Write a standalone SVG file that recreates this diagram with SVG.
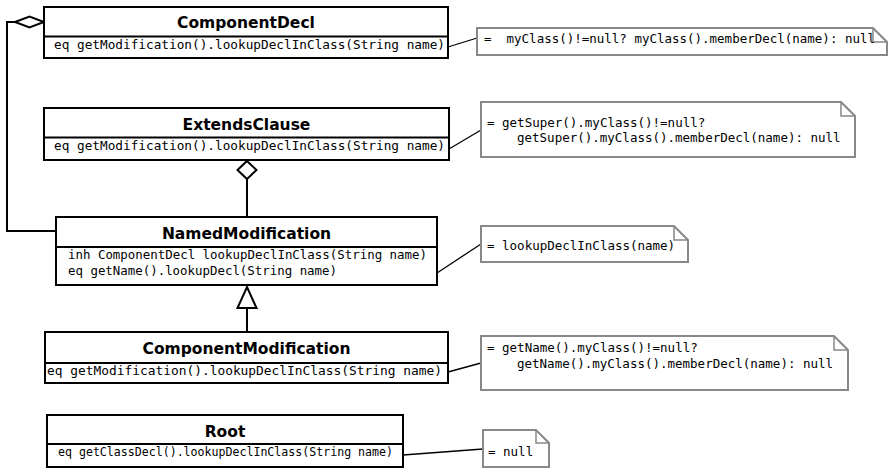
<svg xmlns="http://www.w3.org/2000/svg" width="888" height="469" viewBox="0 0 888 469">
  <style>
    .box { fill: #fff; stroke: #000; stroke-width: 2; }
    .div { stroke: #000; stroke-width: 2; }
    .title { font-family: "DejaVu Sans", "Liberation Sans", sans-serif; font-weight: bold; font-size: 15.5px; text-anchor: middle; fill: #000; }
    .attr { font-family: "DejaVu Sans Mono", "Liberation Mono", monospace; font-size: 13px; fill: #000; }
    .note { fill: #fff; stroke: #888; stroke-width: 2; stroke-linejoin: miter; }
    .fold { fill: none; stroke: #888; stroke-width: 1.5; }
    .ntext { font-family: "DejaVu Sans Mono", "Liberation Mono", monospace; font-size: 12.5px; fill: #000; }
    .link { fill: none; stroke: #000; stroke-width: 2; }
    .head { fill: #fff; stroke: #000; stroke-width: 2; }
    .anchor { stroke: #000; stroke-width: 1.3; }
  </style>

  <!-- connectors -->
  <g id="connectors">
    <!-- NamedModification -> ComponentDecl (aggregation) -->
    <polyline class="link" points="56,231 7,231 7,22 15,22"/>
    <polygon class="head" points="15,22 29.5,16.5 44,22 29.5,27.5"/>
    <!-- NamedModification -> ExtendsClause (aggregation) -->
    <line class="link" x1="247" y1="179" x2="247" y2="217"/>
    <polygon class="head" points="247,161 256.5,170 247,179 237.5,170"/>
    <!-- ComponentModification -> NamedModification (generalization) -->
    <line class="link" x1="247" y1="308" x2="247" y2="332"/>
    <polygon class="head" points="247,287 256.5,308 237.5,308"/>
    <!-- note anchors -->
    <line class="anchor" x1="448" y1="47" x2="477" y2="38"/>
    <line class="anchor" x1="449" y1="149" x2="481" y2="130"/>
    <line class="anchor" x1="437" y1="273" x2="481" y2="244"/>
    <line class="anchor" x1="448" y1="372" x2="481" y2="363"/>
    <line class="anchor" x1="403" y1="455" x2="483" y2="449"/>
  </g>

  <!-- classes -->
  <g id="ComponentDecl">
    <rect class="box" x="44" y="7" width="404" height="51"/>
    <line class="div" x1="44" y1="36.5" x2="448" y2="36.5"/>
    <text class="title" x="246" y="28">ComponentDecl</text>
    <text class="attr" x="54" y="48.5" textLength="391" lengthAdjust="spacingAndGlyphs">eq getModification().lookupDeclInClass(String name)</text>
  </g>

  <g id="ExtendsClause">
    <rect class="box" x="44" y="108" width="405" height="52"/>
    <line class="div" x1="44" y1="137.5" x2="449" y2="137.5"/>
    <text class="title" x="246.5" y="129.5">ExtendsClause</text>
    <text class="attr" x="54" y="149.5" textLength="391" lengthAdjust="spacingAndGlyphs">eq getModification().lookupDeclInClass(String name)</text>
  </g>

  <g id="NamedModification">
    <rect class="box" x="56" y="217" width="381" height="68"/>
    <line class="div" x1="56" y1="247" x2="437" y2="247"/>
    <text class="title" x="246.5" y="238.5">NamedModification</text>
    <text class="attr" x="68" y="259" textLength="359" lengthAdjust="spacingAndGlyphs">inh ComponentDecl lookupDeclInClass(String name)</text>
    <text class="attr" x="68" y="275" textLength="269" lengthAdjust="spacingAndGlyphs">eq getName().lookupDecl(String name)</text>
  </g>

  <g id="ComponentModification">
    <rect class="box" x="45" y="332" width="403" height="51"/>
    <line class="div" x1="45" y1="363" x2="448" y2="363"/>
    <text class="title" x="246.5" y="353.5">ComponentModification</text>
    <text class="attr" x="47" y="375" textLength="395" lengthAdjust="spacingAndGlyphs">eq getModification().lookupDeclInClass(String name)</text>
  </g>

  <g id="Root">
    <rect class="box" x="47" y="415" width="356" height="52"/>
    <line class="div" x1="47" y1="444" x2="403" y2="444"/>
    <text class="title" x="225" y="436.5">Root</text>
    <text class="attr" x="58" y="456" textLength="335" lengthAdjust="spacingAndGlyphs">eq getClassDecl().lookupDeclInClass(String name)</text>
  </g>

  <!-- notes -->
  <g id="note-ComponentDecl">
    <path class="note" d="M477,28 H873 L887,42 V55 H477 Z"/>
    <path class="fold" d="M873,28 V42 H887"/>
    <text class="ntext" x="484" y="43" xml:space="preserve" textLength="391" lengthAdjust="spacingAndGlyphs">=  myClass()!=null? myClass().memberDecl(name): null</text>
  </g>

  <g id="note-ExtendsClause">
    <path class="note" d="M481,102 H841 L855,116 V157 H481 Z"/>
    <path class="fold" d="M841,102 V116 H855"/>
    <text class="ntext" x="487" y="126.5">= getSuper().myClass()!=null?</text>
    <text class="ntext" x="517" y="142">getSuper().myClass().memberDecl(name): null</text>
  </g>

  <g id="note-NamedModification">
    <path class="note" d="M481,226 H674 L688,240 V262 H481 Z"/>
    <path class="fold" d="M674,226 V240 H688"/>
    <text class="ntext" x="487" y="249.5">= lookupDeclInClass(name)</text>
  </g>

  <g id="note-ComponentModification">
    <path class="note" d="M481,336 H834 L848,350 V390 H481 Z"/>
    <path class="fold" d="M834,336 V350 H848"/>
    <text class="ntext" x="487" y="352">= getName().myClass()!=null?</text>
    <text class="ntext" x="517" y="367.5">getName().myClass().memberDecl(name): null</text>
  </g>

  <g id="note-Root">
    <path class="note" d="M483,430 H536 L549,443 V467 H483 Z"/>
    <path class="fold" d="M536,430 V443 H549"/>
    <text class="ntext" x="488" y="455.5">= null</text>
  </g>
</svg>
